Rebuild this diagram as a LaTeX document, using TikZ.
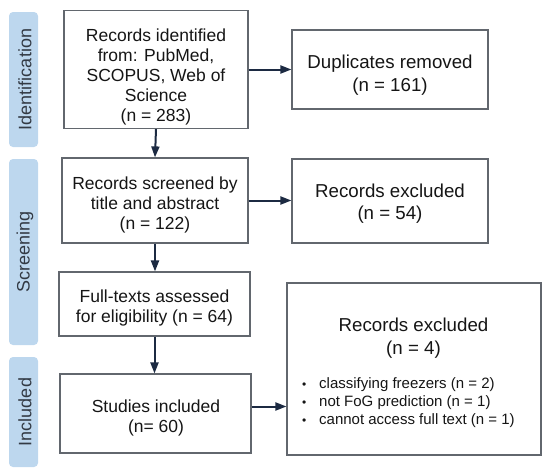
\documentclass[tikz,border=0pt]{standalone}
\usepackage{fontspec}
\setmainfont{Liberation Sans}
\usetikzlibrary{arrows.meta}
\definecolor{barblue}{HTML}{BDD7EE}
\definecolor{boxgray}{HTML}{62676E}
\definecolor{arrnavy}{HTML}{1C2A42}
\definecolor{txt}{HTML}{151515}
\definecolor{sidetxt}{HTML}{333A44}
\tikzset{
  stage/.style={fill=barblue, draw=none, rounded corners=4pt},
  stagelabel/.style={rotate=90, text=sidetxt, font=\fontsize{18}{21}\selectfont, inner sep=0pt},
  flowbox/.style={draw=boxgray, line width=1.2pt, inner sep=0pt},
  lefttxt/.style={align=center, text=txt, inner sep=0pt, font=\fontsize{17.5}{20.2}\selectfont},
  righttxt/.style={align=center, text=txt, inner sep=0pt, font=\fontsize{18.7}{22.5}\selectfont},
  arr/.style={draw=arrnavy, line width=2pt, -{Triangle[length=11pt,width=8pt]}},
  plain/.style={text=txt, inner sep=0pt}
}
\begin{document}
\begin{tikzpicture}[x=1pt,y=-1pt]
\useasboundingbox (0,0) rectangle (550,474);
% stage bars
\path[stage] (9,12) rectangle (38,147);
\path[stage] (9,159) rectangle (38,345);
\path[stage] (9,357) rectangle (38,467);
\node[stagelabel] (lid) at (25,79.5) {Identification};
\node[stagelabel] (lsc) at (25,252) {Screening};
\node[stagelabel] (lin) at (25,412) {Included};
% boxes
\node[flowbox, minimum width=184pt, minimum height=118pt] (rec) at (156,69.5) {};
\node[flowbox, minimum width=196pt, minimum height=79pt] (dup) at (390,69.5) {};
\node[flowbox, minimum width=186pt, minimum height=85pt] (scr) at (155,200.5) {};
\node[flowbox, minimum width=196pt, minimum height=84pt] (ex1) at (390,201) {};
\node[flowbox, minimum width=191pt, minimum height=64pt] (full) at (154.5,304) {};
\node[flowbox, minimum width=191pt, minimum height=79pt] (inc) at (155.5,413.5) {};
\node[flowbox, minimum width=254pt, minimum height=172pt] (ex2) at (414,369) {};
% texts
\node[lefttxt] (rect) at (156,77) {Records identified\\from: PubMed,\\SCOPUS, Web of\\Science\\(n = 283)};
\node[righttxt] (dupt) at (390,75) {Duplicates removed\\(n = 161)};
\node[lefttxt] (scrt) at (155,205) {Records screened by\\title and abstract\\(n = 122)};
\node[righttxt] (ex1t) at (390,203.5) {Records excluded\\(n = 54)};
\node[lefttxt] (fullt) at (154.5,308) {Full-texts assessed\\for eligibility (n = 64)};
\node[lefttxt] (inct) at (156,418) {Studies included\\(n= 60)};
\node[righttxt] (ex2t) at (413.5,338) {Records excluded\\(n = 4)};
\node[plain, align=left, anchor=west, font=\fontsize{15}{18}\selectfont] (ex2l) at (302,403)
  {\makebox[17pt][l]{\fontsize{12}{12}\selectfont•}classifying freezers (n = 2)\\
   \makebox[17pt][l]{\fontsize{12}{12}\selectfont•}not FoG prediction (n = 1)\\
   \makebox[17pt][l]{\fontsize{12}{12}\selectfont•}cannot access full text (n = 1)};
% arrows
\draw[arr] (rec.south) -- (scr.north);
\draw[arr] (scr.south) -- (scr.south |- full.north);
\draw[arr] (full.south) -- (full.south |- inc.north);
\draw[arr] (rec.east) -- (rec.east -| dup.west);
\draw[arr] (scr.east) -- (scr.east -| ex1.west);
\draw[arr] ([yshift=7pt]inc.east) -- ([yshift=7pt]inc.east -| ex2.west);
\end{tikzpicture}
\end{document}
